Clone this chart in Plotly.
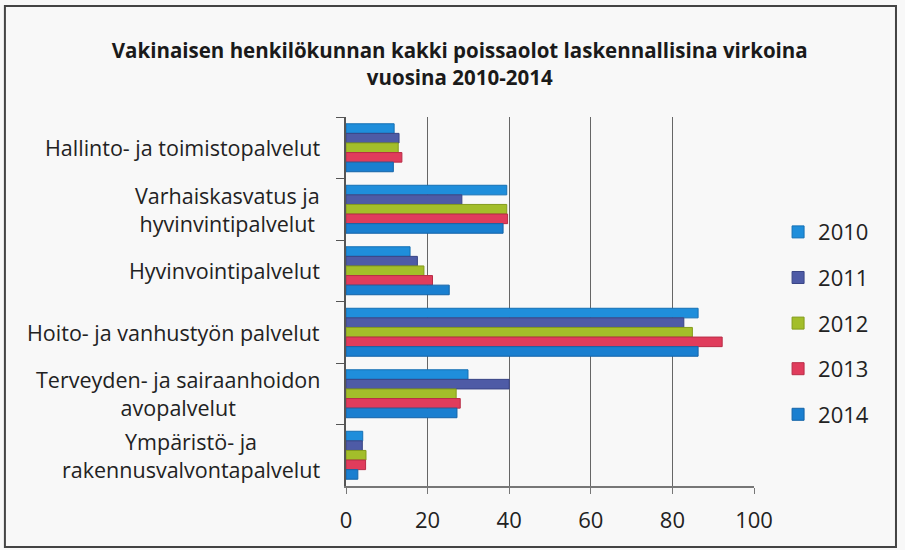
import plotly.graph_objects as go

categories = [
    "Hallinto- ja toimistopalvelut",
    "Varhaiskasvatus ja<br>hyvinvintipalvelut",
    "Hyvinvointipalvelut",
    "Hoito- ja vanhustyön palvelut",
    "Terveyden- ja sairaanhoidon<br>avopalvelut",
    "Ympäristö- ja<br>rakennusvalvontapalvelut",
]
years = ["2010", "2011", "2012", "2013", "2014"]
v2010 = [11.8, 39.4, 15.7, 86.3, 29.9, 4.1]
v2011 = [13.0, 28.4, 17.5, 82.8, 40.0, 4.0]
v2012 = [12.8, 39.4, 19.1, 84.9, 27.0, 4.9]
v2013 = [13.7, 39.6, 21.2, 92.2, 28.0, 4.8]
v2014 = [11.6, 38.5, 25.3, 86.3, 27.2, 2.9]
series = [v2010, v2011, v2012, v2013, v2014]
colors = ["#1F8EDB", "#4E5BA6", "#A3BE2A", "#E03C5C", "#1A7FD0"]
line_colors = ["#1570B5", "#3A4585", "#849C1C", "#B82D47", "#1464A8"]

FONT = "Open Sans, DejaVu Sans, sans-serif"

fig = go.Figure()
for yr, vals, c, lc in zip(years, series, colors, line_colors):
    fig.add_trace(go.Bar(
        y=categories, x=vals, name=yr, orientation="h",
        marker=dict(color=c, line=dict(color=lc, width=1)),
        legendgroup=yr,
    ))

annotations = [
    dict(text=cat, x=0, xref="paper", y=cat, yref="y",
         xanchor="right", yanchor="middle", xshift=-24, align="center",
         showarrow=False, font=dict(size=21.5, family=FONT, color="#222222"))
    for cat in categories
]

fig.update_layout(
    width=905, height=550,
    paper_bgcolor="#F8F8F8", plot_bgcolor="#F8F8F8",
    barmode="group", bargap=0.22, bargroupgap=0,
    margin=dict(l=346, r=151, t=117, b=64),
    font=dict(family=FONT, color="#222222"),
    title=dict(
        text="<b>Vakinaisen henkilökunnan kakki poissaolot laskennallisina virkoina<br>vuosina 2010-2014</b>",
        x=0.508, xanchor="center", y=0.894, yanchor="middle",
        font=dict(size=20.5, family=FONT, color="#1A1A1A"),
    ),
    xaxis=dict(
        range=[0, 100], dtick=20, showgrid=True, gridcolor="#666666", gridwidth=1.3,
        tickfont=dict(size=22, family=FONT, color="#222222"), zeroline=False,
        showline=True, linecolor="#777777", linewidth=1.5,
        ticks="outside", ticklen=6, tickcolor="#777777", ticklabelstandoff=8,
    ),
    yaxis=dict(
        autorange="reversed", showline=True, linecolor="#555555", linewidth=1.5,
        ticks="outside", tickson="boundaries", ticklen=8, tickcolor="#555555",
        showticklabels=False,
    ),
    legend=dict(
        x=1.059, y=0.745, xanchor="left", yanchor="top",
        traceorder="grouped", tracegroupgap=14,
        font=dict(size=22, family=FONT, color="#222222"),
        bgcolor="rgba(0,0,0,0)",
    ),
    annotations=annotations,
    shapes=[dict(
        type="rect", xref="paper", yref="paper",
        x0=-0.836, x1=1.348, y0=-0.165, y1=1.301,
        line=dict(color="#444444", width=2), fillcolor="rgba(0,0,0,0)",
    )],
)
fig.write_html("out.html", config={"displayModeBar": False},
               post_script="document.body.style.margin='0px';")
